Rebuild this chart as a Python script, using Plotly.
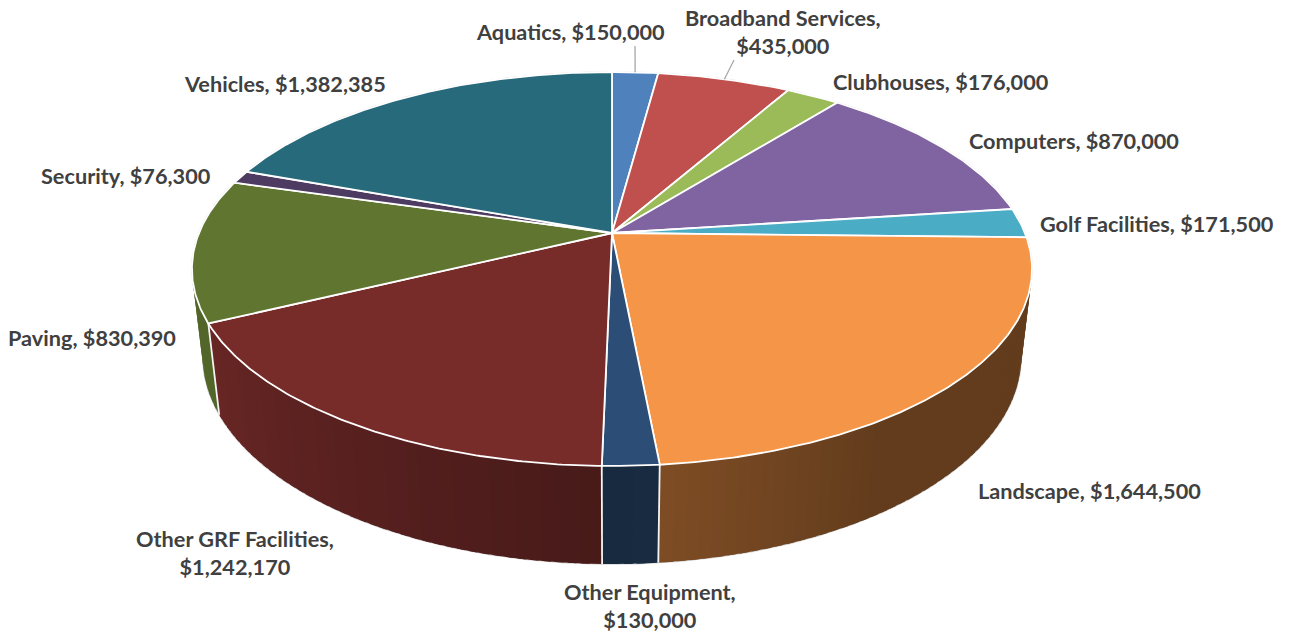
import math
import plotly.graph_objects as go

# Capital budget by category, clockwise from twelve o'clock
categories = ["Aquatics", "Broadband Services", "Clubhouses", "Computers", "Golf Facilities",
              "Landscape", "Other Equipment", "Other GRF Facilities", "Paving", "Security", "Vehicles"]
amounts = [150000, 435000, 176000, 870000, 171500, 1644500, 130000, 1242170, 830390, 76300, 1382385]

top_colors = ["#4F81BD", "#C0504D", "#9BBB59", "#8064A2", "#4BACC6", "#F59547",
              "#2C4D75", "#772C2A", "#5F7530", "#4D3B62", "#276A7C"]

# Side wall brightness: (at the edge nearest the front, far value, degrees over which it fades)
side_shades = {
    "Landscape": (0.51, 0.40, 28),
    "Other Equipment": (0.56, 0.54, 7),
    "Other GRF Facilities": (0.60, 0.88, 63),
    "Paving": (0.87, 0.87, 10),
}

# Label text breaks and label centres in page pixels
wrapped = {"Broadband Services", "Other Equipment", "Other GRF Facilities"}
label_centres = {
    "Aquatics": (570, 32), "Broadband Services": (783, 32), "Clubhouses": (941, 82),
    "Computers": (1074, 141), "Golf Facilities": (1157, 224), "Landscape": (1089, 491),
    "Other Equipment": (650, 606), "Other GRF Facilities": (235, 553), "Paving": (92, 338),
    "Security": (126, 176), "Vehicles": (285, 84),
}
leader_ends = {"Aquatics": (635, 46), "Broadband Services": (734, 60)}

# Perspective disc: hub position, half-axes and foreshortening
HUB_X, HUB_Y = 612.0, 233.0
RADIUS_X, RADIUS_Y = 413.0, 190.4
TILT = 0.1827
WALL_DROP, WALL_SHRINK = 88.6, 0.0255


def project(angle_deg, depth=0.0):
    """Map a clockwise angle on the disc rim, at a depth of 0 (top) or 1 (base), to the page."""
    a = math.radians(angle_deg)
    u, v = math.sin(a), -math.cos(a)
    w = 1 - TILT * v + WALL_SHRINK * depth
    return HUB_X + RADIUS_X * u / w, HUB_Y + (RADIUS_Y * v + WALL_DROP * depth) / w


def arc(start, end, depth=0.0, step=0.5):
    n = max(2, int(abs(end - start) / step) + 1)
    pts = [project(start + (end - start) * i / (n - 1), depth) for i in range(n)]
    return [p[0] for p in pts], [p[1] for p in pts]


def darken(hex_color, factor):
    rgb = [int(hex_color[i:i + 2], 16) for i in (1, 3, 5)]
    return "rgb({},{},{})".format(*[round(c * factor) for c in rgb])


total = sum(amounts)
bounds = [0.0]
for amount in amounts:
    bounds.append(bounds[-1] + amount / total * 360.0)

fig = go.Figure()


def polygon(xs, ys, fill, line_color, line_width):
    fig.add_trace(go.Scatter(x=xs, y=ys, mode="lines", fill="toself", fillcolor=fill,
                             line=dict(color=line_color, width=line_width),
                             hoverinfo="skip", showlegend=False))


def stroke(xs, ys, color, width):
    fig.add_trace(go.Scatter(x=xs, y=ys, mode="lines", line=dict(color=color, width=width),
                             hoverinfo="skip", showlegend=False))


# Faint outline behind the whole solid
xs, ys = arc(0, 360)
stroke(xs, ys, "#d4d4d4", 1.6)
xs, ys = arc(80, 280, depth=1)
stroke(xs, ys, "#d4d4d4", 1.6)

# Side wall, built from narrow overlapping vertical bands, far bands first so each
# nearer band covers the soft edge of the one behind it
WALL_STEP = 1.5
OVERLAP = 1.0
bands = []
for name, colour, start, end in zip(categories, top_colors, bounds[:-1], bounds[1:]):
    lo, hi = max(start, 84.0), min(end, 276.0)
    near_end = end if end <= 180 else start
    near, far, span = side_shades.get(name, (0.6, 0.6, 10))
    a = lo
    while a < hi:
        b = min(a + WALL_STEP, hi)
        t = min(1.0, abs((a + b) / 2 - near_end) / span)
        # Extend the band away from the front, underneath its nearer neighbour
        if end <= 180:
            pa, pb = max(lo, a - OVERLAP), b
        else:
            pa, pb = a, min(hi, b + OVERLAP)
        bands.append((-math.cos(math.radians((a + b) / 2)), pa, pb, darken(colour, near + (far - near) * t)))
        a = b
for _, a, b, fill in sorted(bands):
    tx, ty = arc(a, b)
    bx, by = arc(b, a, depth=1)
    polygon(tx + bx + tx[:1], ty + by + ty[:1], fill, "rgba(0,0,0,0)", 0)

# Seams between neighbouring wall sections
for edge in bounds[:-1]:
    if -math.cos(math.radians(edge)) > 0.05:
        x0, y0 = project(edge)
        x1, y1 = project(edge, depth=1)
        stroke([x0, x1], [y0, y1], "#f4f4f4", 1.8)

# Top face wedges
for colour, start, end in zip(top_colors, bounds[:-1], bounds[1:]):
    ax, ay = arc(start, end)
    polygon([HUB_X] + ax + [HUB_X], [HUB_Y] + ay + [HUB_Y], colour, "#ffffff", 1.8)

# Leader lines run from the middle of the wedge's rim to the label
for name, (lx, ly) in leader_ends.items():
    i = categories.index(name)
    rx, ry = project((bounds[i] + bounds[i + 1]) / 2)
    stroke([rx, lx], [ry, ly], "#a6a6a6", 1.3)

annotations = []
for name, amount in zip(categories, amounts):
    sep = ",<br>" if name in wrapped else ", "
    cx, cy = label_centres[name]
    annotations.append(dict(x=cx, y=cy, xref="x", yref="y", text=f"{name}{sep}${amount:,}",
                            showarrow=False, align="center", xanchor="center", yanchor="middle",
                            font=dict(family="Lato", size=21.7, color="#404040", weight="bold")))

fig.update_layout(
    width=1289, height=635, margin=dict(l=0, r=0, t=0, b=0),
    paper_bgcolor="#ffffff", plot_bgcolor="#ffffff", showlegend=False,
    xaxis=dict(range=[0, 1289], visible=False, fixedrange=True),
    yaxis=dict(range=[635, 0], visible=False, fixedrange=True),
    annotations=annotations,
)
fig.write_html("out.html", config={"displayModeBar": False})
